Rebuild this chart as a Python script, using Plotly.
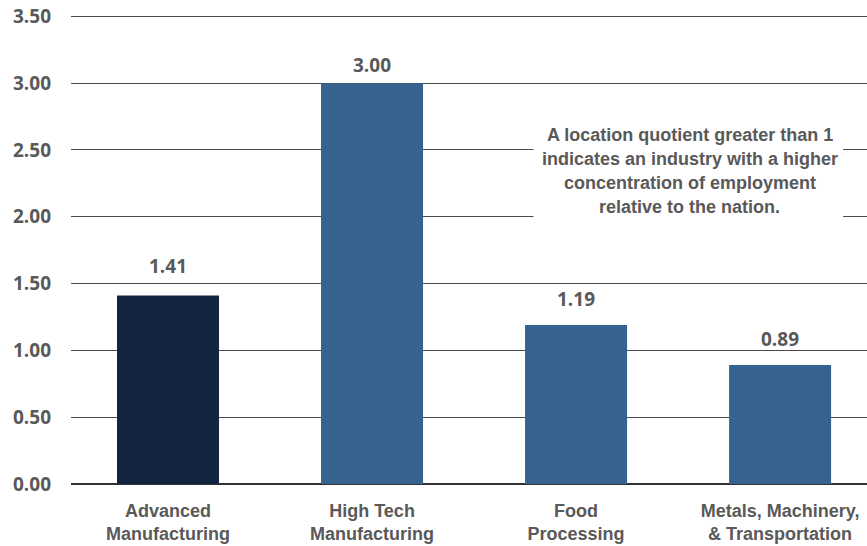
import plotly.graph_objects as go

categories = ["Advanced<br>Manufacturing", "High Tech<br>Manufacturing",
              "Food<br>Processing", "Metals, Machinery,<br>& Transportation"]
values = [1.41, 3.00, 1.19, 0.89]
bar_colors = ["#12243f", "#366290", "#366290", "#366290"]
label_lift = [15, 3, 11, 11]
tick_vals = [0, 0.5, 1.0, 1.5, 2.0, 2.5, 3.0, 3.5]
note_lines = ["A location quotient greater than 1",
              "indicates an industry with a higher",
              "concentration of employment",
              "relative to the nation."]

GRAY = "#595959"
SANS = "Liberation Sans, Arial, sans-serif"
NUM = "Open Sans, Arial, sans-serif"

fig = go.Figure(go.Bar(
    x=list(range(len(categories))), y=values,
    marker=dict(color=bar_colors, line=dict(width=0)),
    width=0.5, hoverinfo="skip",
))

# value labels above each bar
for i, v in enumerate(values):
    fig.add_annotation(x=i, y=v, text=f"{v:.2f}", showarrow=False,
                       yanchor="bottom", yshift=label_lift[i],
                       font=dict(family=NUM, size=19, color=GRAY, weight="bold"))

# white panel behind the note, masking the gridlines
fig.add_shape(type="rect", xref="paper", yref="paper",
              x0=0.581, x1=0.970, y0=0.563, y1=0.780,
              fillcolor="white", line=dict(width=0), layer="above")

for k, line in enumerate(note_lines):
    fig.add_annotation(x=0.7776, y=0.744 - k * 0.0512, xref="paper", yref="paper",
                       xanchor="center", yanchor="middle",
                       text=line, showarrow=False, align="center",
                       font=dict(family=SANS, size=18, color=GRAY, weight="bold"))

fig.update_layout(
    width=867, height=546,
    margin=dict(l=71, r=0, t=15, b=62),
    paper_bgcolor="white", plot_bgcolor="white",
    showlegend=False,
    xaxis=dict(
        tickmode="array", tickvals=list(range(len(categories))),
        ticktext=categories, range=[-0.4755, 3.426],
        showgrid=False, zeroline=False, showline=False, ticks="",
        tickfont=dict(family=SANS, size=18, color=GRAY, weight="bold"),
        ticklabelstandoff=14,
    ),
    yaxis=dict(
        range=[0, 3.51], tickmode="array", tickvals=tick_vals,
        tickformat=".2f", showgrid=True, gridcolor="#4a4a4a", gridwidth=1,
        zeroline=True, zerolinecolor="#333333", zerolinewidth=1.5,
        showline=False, ticks="",
        tickfont=dict(family=NUM, size=19, color=GRAY, weight="bold"),
        ticklabelstandoff=19,
    ),
)

fig.write_html("out.html")
